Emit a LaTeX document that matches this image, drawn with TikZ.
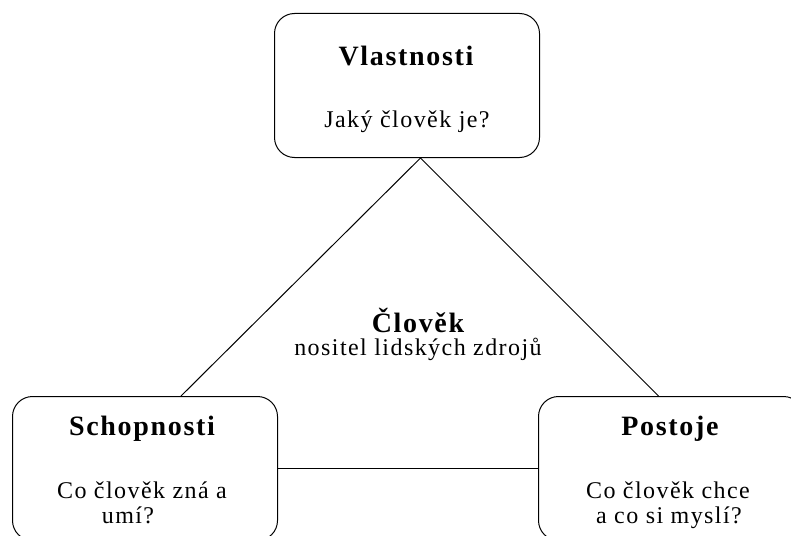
\documentclass[tikz,border=0pt]{standalone}
\usepackage{fontspec}
\setmainfont{Liberation Serif}
\newfontfamily\regf[LetterSpace=6]{Liberation Serif}
\newfontfamily\boldf[LetterSpace=6]{Liberation Serif Bold}
\begin{document}
\begin{tikzpicture}[x=1pt,y=-1pt,
  rbox/.style={draw, line width=1pt, rounded corners=20pt, minimum width=265pt, minimum height=144pt, inner sep=0pt, anchor=north west},
  ttl/.style={anchor=base, inner sep=0pt, font=\boldf\fontsize{28}{32}\selectfont},
  txt/.style={anchor=base, inner sep=0pt, font=\regf\fontsize{24}{26}\selectfont},
  conn/.style={line width=1pt}]
\useasboundingbox (0,0) rectangle (791,535);
\clip (0,0) rectangle (791,535);
\fill[white] (0,0) rectangle (791,535);
\node[rbox] (top) at (274,13) {};
\node[rbox] (left) at (12,396) {};
\node[rbox] (right) at (538,396) {};
\draw[conn] ([xshift=13.5pt]top.south) -- ([xshift=36pt]left.north);
\draw[conn] ([xshift=13.5pt]top.south) -- ([xshift=-12.5pt]right.north);
\draw[conn] (left.east) -- (right.west);
\node[ttl] (t1) at (406,65) {Vlastnosti};
\node[txt] (s1) at (407,127) {Jaký člověk je?};
\node[ttl] (t0) at (418,332) {Člověk};
\node[txt] (s0) at (418,355) {nositel lidských zdrojů};
\node[ttl] (t2) at (142,435) {Schopnosti};
\node[txt] (s2a) at (142,498) {Co člověk zná a};
\node[txt] (s2b) at (128,523) {umí?};
\node[ttl] (t3) at (670,435) {Postoje};
\node[txt] (s3a) at (668,498) {Co člověk chce};
\node[txt] (s3b) at (669,523) {a co si myslí?};
\end{tikzpicture}
\end{document}
